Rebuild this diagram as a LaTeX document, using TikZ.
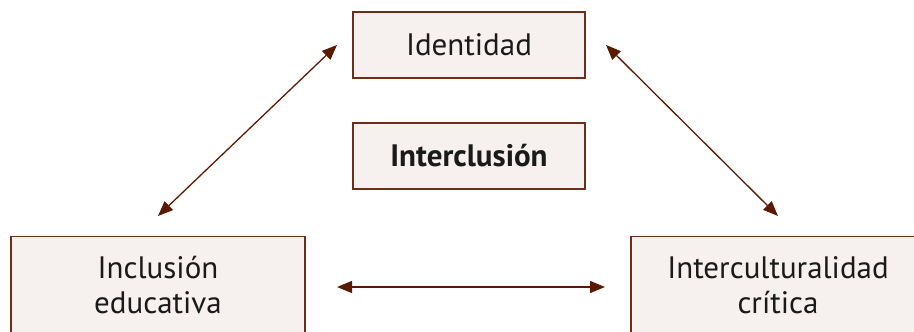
\documentclass[tikz,border=0pt]{standalone}
\usepackage{fontspec}
\setmainfont{PT Sans}
\usetikzlibrary{arrows.meta}
\definecolor{boxfill}{HTML}{F6F0EE}
\definecolor{boxline}{HTML}{6E2E1C}
\definecolor{arrowcol}{HTML}{5A1A02}
\definecolor{txt}{HTML}{1A1A1A}
\tikzset{
  conceptbox/.style={draw=boxline, line width=1.4pt, fill=boxfill, text=txt,
    inner sep=0pt, font=\fontsize{31}{35}\selectfont, align=center},
  link/.style={draw=arrowcol, line width=1.3pt,
    {Triangle[length=15pt,width=12pt]}-{Triangle[length=15pt,width=12pt]}}
}
\begin{document}
\begin{tikzpicture}[x=1pt,y=1pt]
\useasboundingbox (0,0) rectangle (914,332);
\node[conceptbox, minimum width=232pt, minimum height=66pt] (ide) at (469,287) {Identidad};
\node[conceptbox, minimum width=232pt, minimum height=66pt, font=\fontsize{31}{35}\selectfont\bfseries] (inter) at (469,176) {Interclusión};
\node[conceptbox, minimum width=294pt, minimum height=97pt] (inc) at (158,47) {Inclusión\\educativa};
\node[conceptbox, minimum width=294pt, minimum height=97pt] (icc) at (778,47) {Interculturalidad\\crítica};
\coordinate (a1) at (158,116);
\coordinate (a2) at (337,287);
\coordinate (b1) at (606,287);
\coordinate (b2) at (778,116);
\coordinate (c1) at (337,45);
\coordinate (c2) at (605,45);
\draw[link] (a1) -- (a2);
\draw[link] (b1) -- (b2);
\draw[link] (c1) -- (c2);
\end{tikzpicture}
\end{document}
